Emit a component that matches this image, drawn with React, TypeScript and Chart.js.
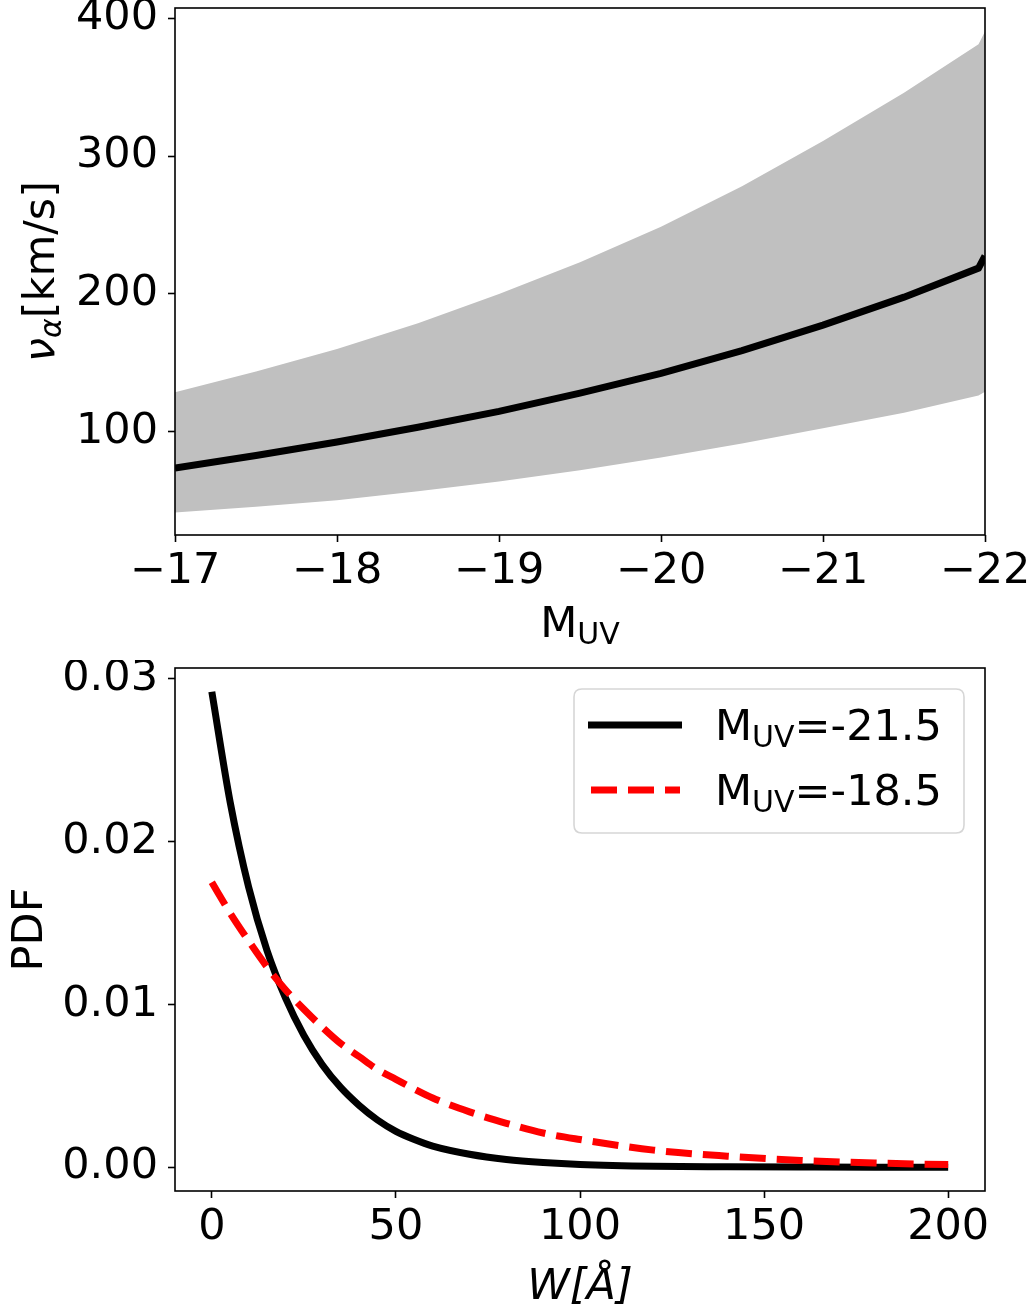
import React, { useEffect, useRef } from 'react';
import { Chart, registerables } from 'chart.js';
Chart.register(...registerables);

// ---------- data: top panel ----------
const muvPoints = [-17, -17.5, -18, -18.5, -19, -19.5, -20, -20.5, -21, -21.5, -21.96, -22];
const vMedian = [73.5, 82.5, 92.3, 103.0, 114.6, 127.8, 142.2, 158.7, 177.2, 197.5, 218.6, 227.4];
const vUpper = [128.5, 143.5, 159.9, 178.5, 199.9, 222.9, 248.7, 278.0, 311.0, 346.0, 381.2, 390.5];
const vLower = [41.1, 45.3, 50.0, 56.5, 63.6, 71.8, 81.1, 91.2, 102.3, 113.5, 126.1, 128.8];
const topXTicks = [-17, -18, -19, -20, -21, -22];
const topYTicks = [100, 200, 300, 400];

// ---------- data: bottom panel ----------
const wPoints = [0, 5, 10, 15, 20, 25, 30, 35, 40, 45, 50, 55, 60, 70, 80, 90, 100, 120, 140, 160, 180, 200];
const pdfBright = [0.0292, 0.0224, 0.0172, 0.0133, 0.0104, 0.0081, 0.0063, 0.0049, 0.0038, 0.0029, 0.0022, 0.0017, 0.0013, 0.0008, 0.00048, 0.00029, 0.00017, 0.00006, 0.00003, 0.00001, 0.0, 0.0];
const pdfFaint = [0.0175, 0.0156, 0.0139, 0.0123, 0.0109, 0.0097, 0.0086, 0.0076, 0.0068, 0.0060, 0.0054, 0.0048, 0.00425, 0.0034, 0.0027, 0.0021, 0.0017, 0.00105, 0.00068, 0.00042, 0.00026, 0.00016];
const bottomXTicks = [0, 50, 100, 150, 200];
const bottomYTicks = [0, 0.01, 0.02, 0.03];
const legendValues = ['=-21.5', '=-18.5'];

const FONT = "'DejaVu Sans'";
const FS = 43;
const SUB = 30;

type Part = { text: string; size: number; italic?: boolean; dy?: number };

function drawRich(ctx: CanvasRenderingContext2D, parts: Part[], x: number, y: number, align: 'left' | 'center') {
  ctx.save();
  ctx.textBaseline = 'alphabetic';
  ctx.textAlign = 'left';
  ctx.fillStyle = '#000';
  let total = 0;
  const widths = parts.map((p) => {
    ctx.font = `${p.italic ? 'italic ' : ''}${p.size}px ${FONT}`;
    const w = ctx.measureText(p.text).width;
    total += w;
    return w;
  });
  let cx = align === 'center' ? x - total / 2 : x;
  parts.forEach((p, i) => {
    ctx.font = `${p.italic ? 'italic ' : ''}${p.size}px ${FONT}`;
    ctx.fillText(p.text, cx, y + (p.dy || 0));
    cx += widths[i];
  });
  ctx.restore();
}

function drawFrame(chart: any) {
  const { left, top, right, bottom } = chart.chartArea;
  const ctx = chart.ctx;
  ctx.save();
  ctx.lineWidth = 1.6;
  ctx.strokeStyle = '#000';
  ctx.strokeRect(left, top, right - left, bottom - top);
  ctx.restore();
}

function axisCommon(ticksArr: number[], fmt: (v: number) => string) {
  return {
    afterBuildTicks: (s: any) => {
      s.ticks = ticksArr.map((v) => ({ value: v }));
    },
    ticks: {
      callback: (v: any) => fmt(Number(v)),
      font: { family: 'DejaVu Sans', size: FS },
      color: '#000',
      autoSkip: false,
      maxRotation: 0,
      minRotation: 0,
    },
    grid: {
      display: true,
      drawOnChartArea: false,
      drawTicks: true,
      tickLength: 7,
      tickWidth: 1.6,
      tickColor: '#000',
    },
    border: { display: false },
  };
}

const minus = (v: number) => (v < 0 ? '\u2212' + Math.abs(v) : String(v));

const TOP_H = 660;
const BOT_H = 1313 - TOP_H;

export default function App() {
  const topRef = useRef<HTMLCanvasElement>(null);
  const botRef = useRef<HTMLCanvasElement>(null);

  useEffect(() => {
    const topPlugin = {
      id: 'topDecor',
      afterDraw(chart: any) {
        const ctx = chart.ctx;
        drawFrame(chart);
        const cx = (chart.chartArea.left + chart.chartArea.right) / 2;
        drawRich(ctx, [
          { text: 'M', size: FS },
          { text: 'UV', size: SUB, dy: 7 },
        ], cx, 637, 'center');
        ctx.save();
        ctx.translate(54, (chart.chartArea.top + chart.chartArea.bottom) / 2);
        ctx.rotate(-Math.PI / 2);
        drawRich(ctx, [
          { text: '\u03BD', size: FS, italic: true },
          { text: '\u03B1', size: SUB, italic: true, dy: 7 },
          { text: '[km/s]', size: FS },
        ], 0, 0, 'center');
        ctx.restore();
      },
    };

    const xTop: any = axisCommon(topXTicks, minus);
    const yTop: any = axisCommon(topYTicks, (v) => String(v));
    const c1 = new Chart(topRef.current as HTMLCanvasElement, {
      type: 'line',
      data: {
        datasets: [
          {
            label: 'median',
            data: muvPoints.map((m, i) => ({ x: m, y: vMedian[i] })),
            borderColor: '#000',
            borderWidth: 7,
            pointRadius: 0,
            fill: false,
            clip: 0,
            order: 0,
          },
          {
            label: 'upper',
            data: muvPoints.map((m, i) => ({ x: m, y: vUpper[i] })),
            borderColor: 'rgba(0,0,0,0)',
            borderWidth: 0,
            backgroundColor: '#c0c0c0',
            pointRadius: 0,
            fill: '+1',
            clip: 0,
            order: 1,
          },
          {
            label: 'lower',
            data: muvPoints.map((m, i) => ({ x: m, y: vLower[i] })),
            borderColor: 'rgba(0,0,0,0)',
            borderWidth: 0,
            pointRadius: 0,
            fill: false,
            clip: 0,
            order: 2,
          },
        ],
      } as any,
      options: {
        responsive: false,
        animation: false,
        devicePixelRatio: 1,
        layout: { padding: { left: 0, right: 51, top: 8, bottom: 0 } },
        plugins: { legend: { display: false }, tooltip: { enabled: false } },
        scales: {
          x: {
            ...xTop,
            type: 'linear',
            min: -22,
            max: -17,
            reverse: true,
            ticks: { ...xTop.ticks, padding: 4 },
            afterFit: (s: any) => {
              s.height = TOP_H - 535;
              s.paddingLeft = 0;
              s.paddingRight = 0;
            },
          },
          y: {
            ...yTop,
            type: 'linear',
            min: 24.8,
            max: 407.5,
            ticks: { ...yTop.ticks, padding: 10 },
            afterFit: (s: any) => {
              s.width = 175;
              s.paddingTop = 0;
              s.paddingBottom = 0;
            },
          },
        },
      } as any,
      plugins: [topPlugin],
    });

    const off = TOP_H;
    const botPlugin = {
      id: 'botDecor',
      afterDraw(chart: any) {
        const ctx = chart.ctx;
        drawFrame(chart);
        const cx = (chart.chartArea.left + chart.chartArea.right) / 2;
        drawRich(ctx, [{ text: 'W[\u00C5]', size: FS, italic: true }], cx, 1299 - off, 'center');
        ctx.save();
        ctx.translate(41.5, (chart.chartArea.top + chart.chartArea.bottom) / 2);
        ctx.rotate(-Math.PI / 2);
        drawRich(ctx, [{ text: 'PDF', size: FS }], 0, 0, 'center');
        ctx.restore();

        // legend
        const bx = 574, by = 689 - off, bw = 390, bh = 144, r = 8;
        ctx.save();
        ctx.beginPath();
        ctx.moveTo(bx + r, by);
        ctx.lineTo(bx + bw - r, by);
        ctx.quadraticCurveTo(bx + bw, by, bx + bw, by + r);
        ctx.lineTo(bx + bw, by + bh - r);
        ctx.quadraticCurveTo(bx + bw, by + bh, bx + bw - r, by + bh);
        ctx.lineTo(bx + r, by + bh);
        ctx.quadraticCurveTo(bx, by + bh, bx, by + bh - r);
        ctx.lineTo(bx, by + r);
        ctx.quadraticCurveTo(bx, by, bx + r, by);
        ctx.closePath();
        ctx.fillStyle = 'rgba(255,255,255,0.8)';
        ctx.fill();
        ctx.lineWidth = 1.6;
        ctx.strokeStyle = '#d6d6d6';
        ctx.stroke();

        ctx.lineCap = 'butt';
        ctx.lineWidth = 7;
        ctx.strokeStyle = '#000';
        ctx.setLineDash([]);
        ctx.beginPath();
        ctx.moveTo(588, 725 - off);
        ctx.lineTo(682, 725 - off);
        ctx.stroke();

        ctx.strokeStyle = '#ff0000';
        ctx.setLineDash([26, 11]);
        ctx.beginPath();
        ctx.moveTo(591, 790 - off);
        ctx.lineTo(680, 790 - off);
        ctx.stroke();
        ctx.restore();

        drawRich(ctx, [
          { text: 'M', size: FS },
          { text: 'UV', size: SUB, dy: 7 },
          { text: legendValues[0], size: FS },
        ], 715, 740 - off, 'left');
        drawRich(ctx, [
          { text: 'M', size: FS },
          { text: 'UV', size: SUB, dy: 7 },
          { text: legendValues[1], size: FS },
        ], 715, 805 - off, 'left');
      },
    };

    const xBot: any = axisCommon(bottomXTicks, (v) => String(v));
    const yBot: any = axisCommon(bottomYTicks, (v) => v.toFixed(2));
    const c2 = new Chart(botRef.current as HTMLCanvasElement, {
      type: 'line',
      data: {
        datasets: [
          {
            label: 'M_UV=-21.5',
            data: wPoints.map((w, i) => ({ x: w, y: pdfBright[i] })),
            borderColor: '#000',
            borderWidth: 7,
            borderCapStyle: 'butt',
            cubicInterpolationMode: 'monotone',
            pointRadius: 0,
            fill: false,
            clip: 0,
            order: 2,
          },
          {
            label: 'M_UV=-18.5',
            data: wPoints.map((w, i) => ({ x: w, y: pdfFaint[i] })),
            borderColor: '#ff0000',
            borderWidth: 7,
            borderDash: [26, 11],
            borderCapStyle: 'butt',
            cubicInterpolationMode: 'monotone',
            pointRadius: 0,
            fill: false,
            clip: 0,
            order: 1,
          },
        ],
      } as any,
      options: {
        responsive: false,
        animation: false,
        devicePixelRatio: 1,
        layout: { padding: { left: 0, right: 51, top: 668 - off, bottom: 0 } },
        plugins: { legend: { display: false }, tooltip: { enabled: false } },
        scales: {
          x: {
            ...xBot,
            type: 'linear',
            min: -10,
            max: 210,
            ticks: { ...xBot.ticks, padding: 4 },
            afterFit: (s: any) => {
              s.height = 1313 - 1191;
              s.paddingLeft = 0;
              s.paddingRight = 0;
            },
          },
          y: {
            ...yBot,
            type: 'linear',
            min: -0.00146,
            max: 0.03066,
            ticks: { ...yBot.ticks, padding: 10 },
            afterFit: (s: any) => {
              s.width = 175;
              s.paddingTop = 0;
              s.paddingBottom = 0;
            },
          },
        },
      } as any,
      plugins: [botPlugin],
    });

    return () => {
      c1.destroy();
      c2.destroy();
    };
  }, []);

  return (
    <div style={{ position: 'absolute', left: 0, top: 0, width: 1036, height: 1313, background: '#fff' }}>
      <canvas ref={topRef} width={1036} height={TOP_H} style={{ display: 'block', width: 1036, height: TOP_H }} />
      <canvas ref={botRef} width={1036} height={BOT_H} style={{ display: 'block', width: 1036, height: BOT_H }} />
    </div>
  );
}
